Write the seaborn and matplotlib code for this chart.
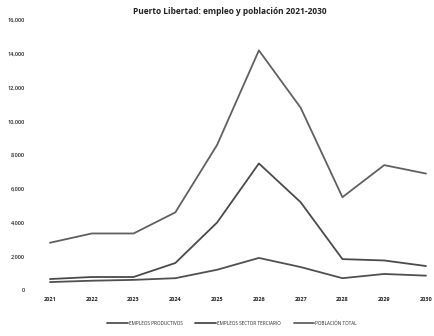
import matplotlib
matplotlib.use("Agg")
import matplotlib.pyplot as plt
import seaborn as sns
import pandas as pd

years = [2021, 2022, 2023, 2024, 2025, 2026, 2027, 2028, 2029, 2030]
empleos_productivos = [470, 550, 600, 700, 1200, 1900, 1360, 700, 950, 850]
empleos_terciario = [650, 770, 770, 1600, 4000, 7500, 5200, 1830, 1750, 1420]
poblacion_total = [2800, 3350, 3350, 4600, 8600, 14200, 10800, 5500, 7400, 6900]
series_names = ["EMPLEOS PRODUCTIVOS", "EMPLEOS SECTOR TERCIARIO", "POBLACIÓN TOTAL"]
y_ticks = [0, 2000, 4000, 6000, 8000, 10000, 12000, 14000, 16000]
title = "Puerto Libertad: empleo y población 2021-2030"

sns.set_theme(style="white")
plt.rcParams['font.family'] = ['Open Sans', 'DejaVu Sans']

rows = []
for name, vals in zip(series_names, [empleos_productivos, empleos_terciario, poblacion_total]):
    for i, (yr, v) in enumerate(zip(years, vals)):
        rows.append({"pos": i, "year": yr, "value": v, "serie": name})
df = pd.DataFrame(rows)

fig = plt.figure(figsize=(4.34, 3.36), dpi=100)
ax = fig.add_axes([50 / 434, 46 / 336, 376 / 434, 270 / 336])
palette = {series_names[0]: "#505050", series_names[1]: "#4a4a4a", series_names[2]: "#606060"}
sns.lineplot(data=df, x="pos", y="value", hue="serie", palette=palette, ax=ax,
             linewidth=1.3, legend=True, clip_on=False)

ax.set_xlim(0, 9)
ax.set_ylim(0, 16000)
ax.set_xticks(range(len(years)))
ax.set_xticklabels([str(y) for y in years], fontsize=4.0, color="#222222", fontweight="bold")
ax.set_yticks(y_ticks)
ax.set_yticklabels([f"{v:,}" for v in y_ticks], fontsize=4.0, color="#222222", fontweight="semibold")
ax.tick_params(axis="y", pad=18, length=0)
ax.tick_params(axis="x", pad=5, length=0)
ax.set_xlabel("")
ax.set_ylabel("")
for s in ax.spines.values():
    s.set_visible(False)
ax.grid(False)

fig.text(230 / 434, 1 - 11 / 336, title, ha="center", va="center", fontsize=6.0,
         color="#222222", fontweight="bold")

handles, labels = ax.get_legend_handles_labels()
ax.legend(handles, labels, loc="center", bbox_to_anchor=(232 / 434, 1 - 323 / 336),
          bbox_transform=fig.transFigure, ncol=3, frameon=False, fontsize=3.3,
          handlelength=4.5, handletextpad=0.2, columnspacing=2.8,
          labelcolor="#222222")

fig.savefig("out.png", dpi=100, facecolor="white")
